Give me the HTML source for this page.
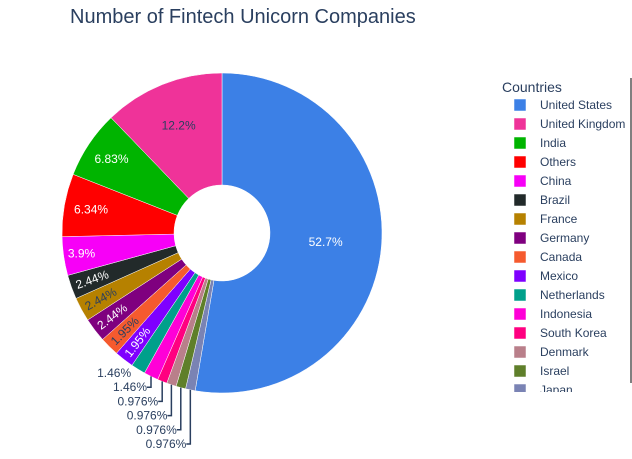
<!DOCTYPE html>
<html><head><meta charset="utf-8"><style>
body{margin:0;background:#fff;}
svg{font-family:"Liberation Sans",Arial,sans-serif;}
</style></head><body>
<svg width="632" height="454" viewBox="0 0 632 454">
<rect width="632" height="454" fill="#fff"/>
<text x="70" y="23" font-size="20" fill="#2a3f5f">Number of Fintech Unicorn Companies</text>
<g id="pie"></g>
<g id="outl"></g>
<g id="legend">
<text x="502" y="92" font-size="14" fill="#2a3f5f">Countries</text>
<line x1="631" y1="78" x2="631" y2="383" stroke="#808080" stroke-width="2"/>
</g>
</svg>
<script>
const countries=["United States","United Kingdom","India","Others","China","Brazil","France","Germany","Canada","Mexico","Netherlands","Indonesia","South Korea","Denmark","Israel","Japan"];
const counts=[108,25,14,13,8,5,5,5,4,4,3,3,2,2,2,2];
const colors=["#3C80E6","#EF3399","#00B400","#FF0000","#F700F7","#222A2A","#B68100","#7F007F","#F55A2E","#7F00FF","#00A08B","#FF00D7","#FF0080","#B97F8A","#5F7F2A","#7A83B4"];
const darkText=[1,6,8];
const NS="http://www.w3.org/2000/svg";
const cx=222,cy=233,R=160,r0=48;
const total=counts.reduce((a,b)=>a+b,0);
function mk(t,a,p){const e=document.createElementNS(NS,t);for(const k in a)e.setAttribute(k,a[k]);p.appendChild(e);return e;}
function pt(f,rad){const a=f*2*Math.PI;return [cx+rad*Math.sin(a),cy-rad*Math.cos(a)];}
function fmt(v){const p=v/total*100;return String(parseFloat(p.toPrecision(3)))+"%";}
const order=[0];for(let i=counts.length-1;i>=1;i--)order.push(i);
const pie=document.getElementById('pie'),outl=document.getElementById('outl');
const outCount=order.filter(i=>counts[i]/total*100<1.9).length;
let cum=0;let outK=0;
order.forEach(i=>{
 const f0=cum/total,f1=(cum+counts[i])/total;cum+=counts[i];
 const [x0,y0]=pt(f0,R),[x1,y1]=pt(f1,R),[x2,y2]=pt(f1,r0),[x3,y3]=pt(f0,r0);
 const large=(f1-f0)>0.5?1:0;
 const p=mk('path',{d:`M${x0},${y0}A${R},${R} 0 ${large} 1 ${x1},${y1}L${x2},${y2}A${r0},${r0} 0 ${large} 0 ${x3},${y3}Z`,fill:colors[i],stroke:'#fff','stroke-width':0.5},pie);
 
 
 const fm=(f0+f1)/2,pct=counts[i]/total*100,label=fmt(counts[i]);
 const fill=darkText.includes(i)?'#2a3f5f':'#fff';
 if(pct>=1.9){
  let t;
  if(pct>=3){
   const rr=i===0?104:(i===1?116:(pct<5?142:133));
   const [tx,ty]=pt(fm,rr);
   t=mk('text',{x:tx,y:ty+4,'font-size':12,fill,'text-anchor':'middle'},pie);
  } else {
   const [tx,ty]=pt(fm,138);
   const ang=fm*360-270;
   t=mk('text',{x:0,y:4,'font-size':12,fill,'text-anchor':'middle',transform:`translate(${tx},${ty}) rotate(${ang})`},pie);
  }
  t.textContent=label;
  
  
 } else {
  const [px,py]=pt(fm,R);
  const idx=outCount-1-outK;
  const ly=373+idx*14.2;
  let tx;
  if(py>=ly-6){tx=px-7;}
  else{
   const ln=mk('path',{d:`M${px},${py}V${ly}H${px-4}`,fill:'none',stroke:'#2a3f5f','stroke-width':1.5},outl);
   
   
   tx=px-4;
  }
  const t=mk('text',{x:tx,y:ly+4,'font-size':12,fill:'#2a3f5f','text-anchor':'end'},outl);
  t.textContent=label;
  
  
  outK++;
 }
});
const lg=document.getElementById('legend');
const clip=mk('clipPath',{id:'lc'},lg);mk('rect',{x:495,y:95,width:134,height:297},clip);
const items=mk('g',{'clip-path':'url(#lc)'},lg);
countries.forEach((c,i)=>{
 const y=105+i*19;
 const g=mk('g',{},items);
 
 
 mk('rect',{x:514,y:y-6,width:12,height:12,fill:colors[i],stroke:'#fff','stroke-width':0.5},g);
 const t=mk('text',{x:540,y:y+4,'font-size':12,fill:'#2a3f5f'},g);
 t.textContent=c;
});
</script>
</body></html>
